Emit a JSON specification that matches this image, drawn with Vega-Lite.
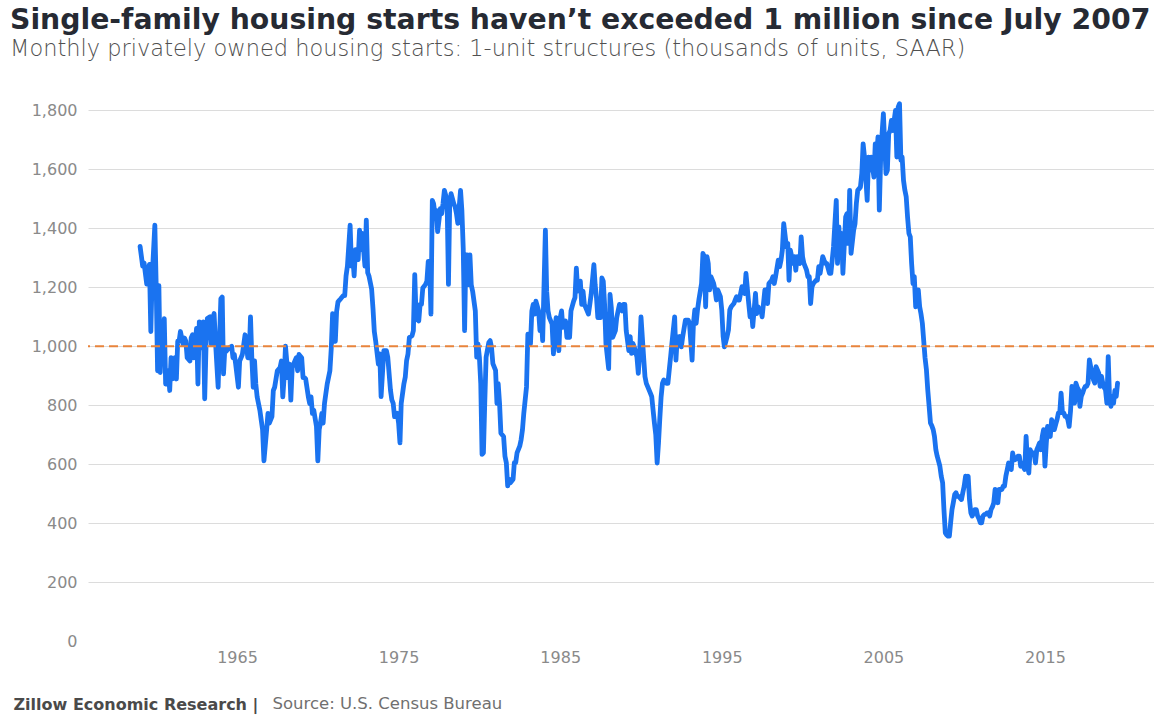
{
  "$schema": "https://vega.github.io/schema/vega-lite/v6.json",
  "autosize": {"type": "none"},
  "width": 1066,
  "height": 560,
  "padding": {"left": 88, "top": 81, "right": 0, "bottom": 75},
  "background": "white",
  "title": {
    "text": "Single-family housing starts haven’t exceeded 1 million since July 2007",
    "subtitle": "Monthly privately owned housing starts: 1-unit structures (thousands of units, SAAR)",
    "anchor": "start",
    "frame": "group",
    "dx": -78,
    "offset": 19,
    "font": "DejaVu Sans",
    "fontSize": 28.3,
    "fontWeight": "bold",
    "color": "#262a33",
    "subtitleFont": "DejaVu Sans",
    "subtitleFontSize": 22.5,
    "subtitleFontWeight": 200,
    "subtitleColor": "#505050",
    "subtitlePadding": 3
  },
  "config": {"view": {"stroke": null}},
  "layer": [
    {
      "data": {
        "format": {"parse": {"date": "utc:'%Y-%m'"}},
        "values": [
{"date":"1959-01","v":1339},{"date":"1959-03","v":1272},{"date":"1959-04","v":1283},{"date":"1959-06","v":1211},{"date":"1959-07","v":1261},{"date":"1959-08","v":1278},{"date":"1959-09","v":1050},{"date":"1959-10","v":1233},{"date":"1959-12","v":1411},
{"date":"1960-01","v":1200},{"date":"1960-02","v":917},{"date":"1960-03","v":1206},{"date":"1960-04","v":911},{"date":"1960-05","v":1050},{"date":"1960-06","v":1006},{"date":"1960-07","v":1094},{"date":"1960-08","v":872},{"date":"1960-10","v":917},{"date":"1960-11","v":850},{"date":"1960-12","v":961},
{"date":"1961-01","v":889},{"date":"1961-03","v":961},{"date":"1961-04","v":889},{"date":"1961-05","v":1017},{"date":"1961-06","v":1017},{"date":"1961-07","v":1050},{"date":"1961-09","v":1006},{"date":"1961-10","v":1028},{"date":"1961-11","v":1017},{"date":"1961-12","v":961},
{"date":"1962-02","v":950},{"date":"1962-03","v":1028},{"date":"1962-04","v":1039},{"date":"1962-05","v":961},{"date":"1962-07","v":1061},{"date":"1962-08","v":872},{"date":"1962-09","v":1083},{"date":"1962-10","v":994},{"date":"1962-12","v":1083},
{"date":"1963-01","v":822},{"date":"1963-02","v":1006},{"date":"1963-03","v":1094},{"date":"1963-05","v":1100},{"date":"1963-06","v":1006},{"date":"1963-07","v":1094},{"date":"1963-08","v":1111},{"date":"1963-09","v":1017},{"date":"1963-11","v":861},{"date":"1963-12","v":1017},
{"date":"1964-01","v":1161},{"date":"1964-02","v":1167},{"date":"1964-03","v":906},{"date":"1964-04","v":994},{"date":"1964-05","v":983},{"date":"1964-06","v":989},{"date":"1964-07","v":994},{"date":"1964-09","v":1000},{"date":"1964-10","v":961},{"date":"1964-11","v":972},{"date":"1964-12","v":939},
{"date":"1965-02","v":861},{"date":"1965-03","v":950},{"date":"1965-04","v":961},{"date":"1965-05","v":972},{"date":"1965-07","v":1039},{"date":"1965-08","v":1006},{"date":"1965-09","v":961},{"date":"1965-10","v":961},{"date":"1965-11","v":1100},{"date":"1965-12","v":961},
{"date":"1966-01","v":861},{"date":"1966-02","v":950},{"date":"1966-03","v":872},{"date":"1966-04","v":828},{"date":"1966-06","v":783},{"date":"1966-07","v":750},{"date":"1966-08","v":717},{"date":"1966-09","v":611},{"date":"1966-11","v":717},{"date":"1966-12","v":772},
{"date":"1967-01","v":739},{"date":"1967-03","v":761},{"date":"1967-04","v":850},{"date":"1967-05","v":861},{"date":"1967-06","v":889},{"date":"1967-07","v":917},{"date":"1967-09","v":928},{"date":"1967-10","v":950},{"date":"1967-11","v":828},{"date":"1967-12","v":894},
{"date":"1968-01","v":1000},{"date":"1968-03","v":894},{"date":"1968-04","v":939},{"date":"1968-05","v":817},{"date":"1968-06","v":928},{"date":"1968-08","v":950},{"date":"1968-09","v":961},{"date":"1968-10","v":917},{"date":"1968-11","v":972},
{"date":"1969-01","v":961},{"date":"1969-02","v":894},{"date":"1969-03","v":894},{"date":"1969-04","v":889},{"date":"1969-06","v":828},{"date":"1969-07","v":806},{"date":"1969-08","v":828},{"date":"1969-09","v":772},{"date":"1969-10","v":783},{"date":"1969-12","v":728},
{"date":"1970-01","v":611},{"date":"1970-02","v":717},{"date":"1970-03","v":739},{"date":"1970-04","v":772},{"date":"1970-05","v":739},{"date":"1970-06","v":806},{"date":"1970-07","v":839},{"date":"1970-08","v":872},{"date":"1970-10","v":917},{"date":"1970-11","v":994},{"date":"1970-12","v":1111},
{"date":"1971-01","v":1094},{"date":"1971-02","v":1017},{"date":"1971-03","v":1117},{"date":"1971-04","v":1150},{"date":"1971-05","v":1156},{"date":"1971-06","v":1161},{"date":"1971-08","v":1172},{"date":"1971-09","v":1172},{"date":"1971-10","v":1239},{"date":"1971-11","v":1272},
{"date":"1972-01","v":1411},{"date":"1972-02","v":1272},{"date":"1972-03","v":1306},{"date":"1972-04","v":1239},{"date":"1972-05","v":1328},{"date":"1972-07","v":1294},{"date":"1972-08","v":1394},{"date":"1972-09","v":1328},{"date":"1972-10","v":1383},{"date":"1972-12","v":1272},
{"date":"1973-01","v":1428},{"date":"1973-02","v":1250},{"date":"1973-03","v":1239},{"date":"1973-05","v":1194},{"date":"1973-06","v":1128},{"date":"1973-07","v":1050},{"date":"1973-08","v":1017},{"date":"1973-10","v":939},{"date":"1973-11","v":974},{"date":"1973-12","v":829},
{"date":"1974-02","v":985},{"date":"1974-04","v":985},{"date":"1974-05","v":963},{"date":"1974-07","v":851},{"date":"1974-08","v":818},{"date":"1974-09","v":806},{"date":"1974-10","v":761},{"date":"1974-12","v":773},
{"date":"1975-01","v":739},{"date":"1975-02","v":672},{"date":"1975-03","v":806},{"date":"1975-04","v":840},{"date":"1975-05","v":873},{"date":"1975-06","v":896},{"date":"1975-07","v":952},{"date":"1975-08","v":974},{"date":"1975-09","v":1030},{"date":"1975-11","v":1036},{"date":"1975-12","v":1053},
{"date":"1976-01","v":1243},{"date":"1976-02","v":1097},{"date":"1976-04","v":1086},{"date":"1976-05","v":1142},{"date":"1976-06","v":1142},{"date":"1976-07","v":1198},{"date":"1976-09","v":1210},{"date":"1976-10","v":1221},{"date":"1976-11","v":1288},{"date":"1976-12","v":1288},
{"date":"1977-01","v":1109},{"date":"1977-02","v":1495},{"date":"1977-03","v":1484},{"date":"1977-04","v":1450},{"date":"1977-05","v":1461},{"date":"1977-06","v":1389},{"date":"1977-08","v":1467},{"date":"1977-09","v":1450},{"date":"1977-10","v":1484},{"date":"1977-11","v":1529},
{"date":"1978-01","v":1495},{"date":"1978-02","v":1210},{"date":"1978-03","v":1484},{"date":"1978-04","v":1518},{"date":"1978-06","v":1484},{"date":"1978-07","v":1473},{"date":"1978-08","v":1450},{"date":"1978-09","v":1417},{"date":"1978-11","v":1529},{"date":"1978-12","v":1462},
{"date":"1979-01","v":1332},{"date":"1979-02","v":1053},{"date":"1979-03","v":1310},{"date":"1979-04","v":1310},{"date":"1979-05","v":1209},{"date":"1979-06","v":1310},{"date":"1979-07","v":1209},{"date":"1979-08","v":1187},{"date":"1979-10","v":1120},{"date":"1979-11","v":963},{"date":"1979-12","v":1008},
{"date":"1980-01","v":963},{"date":"1980-02","v":873},{"date":"1980-03","v":633},{"date":"1980-04","v":638},{"date":"1980-05","v":806},{"date":"1980-06","v":963},{"date":"1980-08","v":1013},{"date":"1980-09","v":1019},{"date":"1980-10","v":996},{"date":"1980-11","v":941},
{"date":"1981-01","v":918},{"date":"1981-02","v":806},{"date":"1981-03","v":873},{"date":"1981-04","v":806},{"date":"1981-05","v":705},{"date":"1981-07","v":694},{"date":"1981-08","v":627},{"date":"1981-09","v":605},{"date":"1981-10","v":526},{"date":"1981-11","v":549},{"date":"1981-12","v":537},
{"date":"1982-02","v":549},{"date":"1982-03","v":605},{"date":"1982-04","v":605},{"date":"1982-05","v":638},{"date":"1982-07","v":661},{"date":"1982-08","v":683},{"date":"1982-09","v":717},{"date":"1982-10","v":773},{"date":"1982-12","v":862},
{"date":"1983-01","v":1041},{"date":"1983-02","v":1041},{"date":"1983-03","v":1008},{"date":"1983-04","v":1120},{"date":"1983-05","v":1142},{"date":"1983-06","v":1109},{"date":"1983-07","v":1153},{"date":"1983-09","v":1120},{"date":"1983-10","v":1053},{"date":"1983-11","v":1097},{"date":"1983-12","v":1019},
{"date":"1984-02","v":1394},{"date":"1984-03","v":1187},{"date":"1984-04","v":1120},{"date":"1984-05","v":1097},{"date":"1984-07","v":1075},{"date":"1984-08","v":974},{"date":"1984-09","v":1053},{"date":"1984-10","v":1097},{"date":"1984-12","v":985},
{"date":"1985-01","v":1097},{"date":"1985-02","v":1120},{"date":"1985-03","v":1064},{"date":"1985-05","v":1086},{"date":"1985-06","v":1030},{"date":"1985-07","v":1064},{"date":"1985-08","v":1030},{"date":"1985-09","v":1120},{"date":"1985-11","v":1153},{"date":"1985-12","v":1165},
{"date":"1986-01","v":1265},{"date":"1986-02","v":1187},{"date":"1986-04","v":1221},{"date":"1986-05","v":1142},{"date":"1986-06","v":1187},{"date":"1986-07","v":1142},{"date":"1986-09","v":1120},{"date":"1986-10","v":1109},{"date":"1986-11","v":1142},{"date":"1986-12","v":1176},
{"date":"1987-02","v":1277},{"date":"1987-03","v":1210},{"date":"1987-04","v":1165},{"date":"1987-05","v":1097},{"date":"1987-07","v":1097},{"date":"1987-08","v":1232},{"date":"1987-09","v":1221},{"date":"1987-10","v":1142},{"date":"1987-11","v":1008},
{"date":"1988-01","v":924},{"date":"1988-02","v":1176},{"date":"1988-03","v":1131},{"date":"1988-04","v":1030},{"date":"1988-06","v":1053},{"date":"1988-07","v":1097},{"date":"1988-08","v":1120},{"date":"1988-09","v":1142},{"date":"1988-11","v":1120},{"date":"1988-12","v":1142},
{"date":"1989-01","v":1142},{"date":"1989-02","v":1053},{"date":"1989-04","v":985},{"date":"1989-05","v":1033},{"date":"1989-06","v":976},{"date":"1989-07","v":1010},{"date":"1989-08","v":998},{"date":"1989-10","v":964},{"date":"1989-11","v":908},{"date":"1989-12","v":976},
{"date":"1990-01","v":1100},{"date":"1990-03","v":964},{"date":"1990-04","v":897},{"date":"1990-05","v":874},{"date":"1990-06","v":863},{"date":"1990-08","v":841},{"date":"1990-09","v":829},{"date":"1990-10","v":784},{"date":"1990-11","v":739},{"date":"1990-12","v":700},
{"date":"1991-01","v":604},{"date":"1991-02","v":672},{"date":"1991-03","v":751},{"date":"1991-04","v":829},{"date":"1991-05","v":874},{"date":"1991-06","v":886},{"date":"1991-08","v":874},{"date":"1991-09","v":874},{"date":"1991-10","v":919},{"date":"1991-11","v":964},{"date":"1991-12","v":1010},
{"date":"1992-02","v":1100},{"date":"1992-03","v":953},{"date":"1992-04","v":1033},{"date":"1992-05","v":1010},{"date":"1992-06","v":1033},{"date":"1992-07","v":998},{"date":"1992-08","v":1033},{"date":"1992-10","v":1089},{"date":"1992-11","v":1089},{"date":"1992-12","v":1089},
{"date":"1993-01","v":1078},{"date":"1993-03","v":953},{"date":"1993-04","v":1078},{"date":"1993-05","v":1123},{"date":"1993-06","v":1078},{"date":"1993-07","v":1123},{"date":"1993-08","v":1157},{"date":"1993-10","v":1213},{"date":"1993-11","v":1315},{"date":"1993-12","v":1304},
{"date":"1994-01","v":1134},{"date":"1994-02","v":1304},{"date":"1994-03","v":1281},{"date":"1994-04","v":1191},{"date":"1994-05","v":1236},{"date":"1994-07","v":1213},{"date":"1994-08","v":1191},{"date":"1994-09","v":1157},{"date":"1994-10","v":1191},{"date":"1994-12","v":1168},
{"date":"1995-01","v":1123},{"date":"1995-02","v":1033},{"date":"1995-03","v":998},{"date":"1995-05","v":1033},{"date":"1995-06","v":1055},{"date":"1995-07","v":1123},{"date":"1995-08","v":1134},{"date":"1995-10","v":1145},{"date":"1995-11","v":1157},{"date":"1995-12","v":1168},
{"date":"1996-01","v":1157},{"date":"1996-02","v":1157},{"date":"1996-04","v":1202},{"date":"1996-05","v":1191},{"date":"1996-06","v":1179},{"date":"1996-07","v":1247},{"date":"1996-09","v":1145},{"date":"1996-10","v":1100},{"date":"1996-11","v":1123},{"date":"1996-12","v":1067},
{"date":"1997-02","v":1179},{"date":"1997-03","v":1111},{"date":"1997-04","v":1134},{"date":"1997-05","v":1123},{"date":"1997-06","v":1123},{"date":"1997-07","v":1100},{"date":"1997-09","v":1191},{"date":"1997-10","v":1191},{"date":"1997-11","v":1145},{"date":"1997-12","v":1213},
{"date":"1998-02","v":1224},{"date":"1998-03","v":1236},{"date":"1998-04","v":1213},{"date":"1998-05","v":1236},{"date":"1998-07","v":1292},{"date":"1998-08","v":1270},{"date":"1998-09","v":1292},{"date":"1998-10","v":1326},{"date":"1998-11","v":1416},
{"date":"1999-01","v":1338},{"date":"1999-02","v":1349},{"date":"1999-03","v":1224},{"date":"1999-04","v":1326},{"date":"1999-06","v":1281},{"date":"1999-07","v":1304},{"date":"1999-08","v":1258},{"date":"1999-09","v":1304},{"date":"1999-11","v":1281},{"date":"1999-12","v":1371},
{"date":"2000-01","v":1304},{"date":"2000-02","v":1281},{"date":"2000-04","v":1258},{"date":"2000-05","v":1236},{"date":"2000-06","v":1236},{"date":"2000-07","v":1145},{"date":"2000-08","v":1202},{"date":"2000-09","v":1213},{"date":"2000-11","v":1224},{"date":"2000-12","v":1224},
{"date":"2001-01","v":1270},{"date":"2001-02","v":1247},{"date":"2001-04","v":1304},{"date":"2001-05","v":1292},{"date":"2001-06","v":1281},{"date":"2001-07","v":1281},{"date":"2001-09","v":1247},{"date":"2001-10","v":1247},{"date":"2001-11","v":1292},{"date":"2001-12","v":1338},
{"date":"2002-02","v":1495},{"date":"2002-03","v":1281},{"date":"2002-04","v":1405},{"date":"2002-05","v":1304},{"date":"2002-06","v":1383},{"date":"2002-07","v":1247},{"date":"2002-09","v":1439},{"date":"2002-10","v":1450},{"date":"2002-11","v":1349},{"date":"2002-12","v":1529},
{"date":"2003-01","v":1315},{"date":"2003-03","v":1394},{"date":"2003-04","v":1416},{"date":"2003-05","v":1484},{"date":"2003-06","v":1529},{"date":"2003-08","v":1540},{"date":"2003-09","v":1586},{"date":"2003-10","v":1687},{"date":"2003-11","v":1642},
{"date":"2004-01","v":1495},{"date":"2004-02","v":1642},{"date":"2004-03","v":1597},{"date":"2004-04","v":1642},{"date":"2004-06","v":1574},{"date":"2004-07","v":1687},{"date":"2004-08","v":1642},{"date":"2004-09","v":1710},{"date":"2004-10","v":1462},{"date":"2004-11","v":1642},{"date":"2004-12","v":1720},
{"date":"2005-01","v":1789},{"date":"2005-03","v":1586},{"date":"2005-04","v":1597},{"date":"2005-05","v":1721},{"date":"2005-06","v":1732},{"date":"2005-07","v":1766},{"date":"2005-08","v":1732},{"date":"2005-10","v":1800},{"date":"2005-11","v":1642},{"date":"2005-12","v":1811},
{"date":"2006-01","v":1823},{"date":"2006-02","v":1631},{"date":"2006-03","v":1642},{"date":"2006-04","v":1563},{"date":"2006-05","v":1530},{"date":"2006-06","v":1507},{"date":"2006-07","v":1439},{"date":"2006-08","v":1383},{"date":"2006-09","v":1371},{"date":"2006-10","v":1281},{"date":"2006-11","v":1213},{"date":"2006-12","v":1236},
{"date":"2007-01","v":1134},{"date":"2007-02","v":1191},{"date":"2007-03","v":1191},{"date":"2007-04","v":1134},{"date":"2007-05","v":1110},{"date":"2007-06","v":1078},{"date":"2007-07","v":1020},{"date":"2007-08","v":960},{"date":"2007-09","v":920},{"date":"2007-10","v":852},{"date":"2007-11","v":796},{"date":"2007-12","v":740},
{"date":"2008-01","v":730},{"date":"2008-02","v":717},{"date":"2008-03","v":694},{"date":"2008-04","v":649},{"date":"2008-05","v":627},{"date":"2008-06","v":610},{"date":"2008-07","v":593},{"date":"2008-08","v":559},{"date":"2008-09","v":537},{"date":"2008-10","v":446},{"date":"2008-11","v":367},{"date":"2008-12","v":360},
{"date":"2009-01","v":356},{"date":"2009-02","v":356},{"date":"2009-03","v":401},{"date":"2009-04","v":446},{"date":"2009-05","v":470},{"date":"2009-06","v":497},{"date":"2009-07","v":503},{"date":"2009-08","v":491},{"date":"2009-09","v":491},{"date":"2009-10","v":485},{"date":"2009-11","v":480},{"date":"2009-12","v":503},
{"date":"2010-01","v":525},{"date":"2010-02","v":559},{"date":"2010-03","v":540},{"date":"2010-04","v":559},{"date":"2010-05","v":480},{"date":"2010-06","v":435},{"date":"2010-07","v":424},{"date":"2010-08","v":435},{"date":"2010-09","v":446},{"date":"2010-10","v":446},{"date":"2010-11","v":424},{"date":"2010-12","v":415},
{"date":"2011-01","v":401},{"date":"2011-02","v":401},{"date":"2011-03","v":424},{"date":"2011-04","v":429},{"date":"2011-05","v":430},{"date":"2011-06","v":435},{"date":"2011-07","v":435},{"date":"2011-08","v":424},{"date":"2011-09","v":446},{"date":"2011-10","v":455},{"date":"2011-11","v":469},{"date":"2011-12","v":514},
{"date":"2012-01","v":491},{"date":"2012-02","v":469},{"date":"2012-03","v":514},{"date":"2012-04","v":514},{"date":"2012-05","v":514},{"date":"2012-06","v":525},{"date":"2012-07","v":525},{"date":"2012-08","v":560},{"date":"2012-09","v":582},{"date":"2012-10","v":604},{"date":"2012-11","v":593},{"date":"2012-12","v":582},
{"date":"2013-01","v":638},{"date":"2013-02","v":615},{"date":"2013-03","v":615},{"date":"2013-04","v":620},{"date":"2013-05","v":627},{"date":"2013-06","v":627},{"date":"2013-07","v":593},{"date":"2013-08","v":604},{"date":"2013-09","v":590},{"date":"2013-10","v":582},{"date":"2013-11","v":694},{"date":"2013-12","v":604},
{"date":"2014-01","v":570},{"date":"2014-02","v":649},{"date":"2014-03","v":638},{"date":"2014-04","v":638},{"date":"2014-05","v":638},{"date":"2014-06","v":604},{"date":"2014-07","v":649},{"date":"2014-08","v":660},{"date":"2014-09","v":672},{"date":"2014-10","v":649},{"date":"2014-11","v":694},{"date":"2014-12","v":717},
{"date":"2015-01","v":593},{"date":"2015-02","v":672},{"date":"2015-03","v":728},{"date":"2015-04","v":710},{"date":"2015-05","v":694},{"date":"2015-06","v":751},{"date":"2015-07","v":740},{"date":"2015-08","v":717},{"date":"2015-09","v":735},{"date":"2015-10","v":751},{"date":"2015-11","v":774},{"date":"2015-12","v":774},
{"date":"2016-01","v":841},{"date":"2016-02","v":774},{"date":"2016-03","v":774},{"date":"2016-04","v":762},{"date":"2016-05","v":762},{"date":"2016-06","v":751},{"date":"2016-07","v":728},{"date":"2016-08","v":780},{"date":"2016-09","v":864},{"date":"2016-10","v":830},{"date":"2016-11","v":807},{"date":"2016-12","v":875},
{"date":"2017-01","v":860},{"date":"2017-02","v":852},{"date":"2017-03","v":796},{"date":"2017-04","v":830},{"date":"2017-05","v":841},{"date":"2017-06","v":855},{"date":"2017-07","v":864},{"date":"2017-08","v":864},{"date":"2017-09","v":875},{"date":"2017-10","v":954},{"date":"2017-11","v":930},{"date":"2017-12","v":909},
{"date":"2018-01","v":886},{"date":"2018-02","v":875},{"date":"2018-03","v":931},{"date":"2018-04","v":920},{"date":"2018-05","v":909},{"date":"2018-06","v":864},{"date":"2018-07","v":898},{"date":"2018-08","v":875},{"date":"2018-09","v":860},{"date":"2018-10","v":852},{"date":"2018-11","v":807},{"date":"2018-12","v":965},
{"date":"2019-01","v":819},{"date":"2019-02","v":796},{"date":"2019-03","v":830},{"date":"2019-04","v":807},{"date":"2019-05","v":850},{"date":"2019-06","v":830},{"date":"2019-07","v":875}
        ]
      },
      "mark": {"type": "line", "color": "#1a73f0", "strokeWidth": 4.8, "strokeJoin": "round", "strokeCap": "round"},
      "encoding": {
        "x": {
          "field": "date",
          "type": "temporal",
          "scale": {"type": "utc", "domain": [{"year": 1955, "month": 10, "date": 12, "utc": true}, {"year": 2021, "month": 10, "date": 1, "utc": true}]},
          "axis": {
            "values": [{"year": 1965, "utc": true}, {"year": 1975, "utc": true}, {"year": 1985, "utc": true}, {"year": 1995, "utc": true}, {"year": 2005, "utc": true}, {"year": 2015, "utc": true}],
            "labelExpr": "utcFormat(datum.value, '%Y')",
            "grid": false,
            "domain": false,
            "ticks": false,
            "labelFont": "DejaVu Sans",
            "labelFontSize": 16,
            "labelColor": "#8a8a8a",
            "labelPadding": 8,
            "title": "Zillow Economic Research |",
            "titleX": -75,
            "titleY": 68,
            "titleAlign": "left",
            "titleBaseline": "alphabetic",
            "titleFont": "DejaVu Sans",
            "titleFontSize": 16,
            "titleFontWeight": "bold",
            "titleColor": "#4a4a4a"
          }
        },
        "y": {
          "field": "v",
          "type": "quantitative",
          "scale": {"domain": [0, 1900], "nice": false},
          "axis": {
            "values": [0, 200, 400, 600, 800, 1000, 1200, 1400, 1600, 1800],
            "labelExpr": "format(datum.value, ',.0f')",
            "grid": true,
            "gridColor": "#dcdcdc",
            "gridWidth": 1,
            "gridOpacity": {"condition": {"test": "datum.value === 0", "value": 0}, "value": 1},
            "domain": false,
            "ticks": false,
            "labelFont": "DejaVu Sans",
            "labelFontSize": 16,
            "labelColor": "#8a8a8a",
            "labelPadding": 11,
            "title": "Source: U.S. Census Bureau",
            "titleAngle": 0,
            "titleX": 184,
            "titleY": 627,
            "titleAlign": "left",
            "titleBaseline": "alphabetic",
            "titleFont": "DejaVu Sans",
            "titleFontSize": 16.5,
            "titleFontWeight": "normal",
            "titleColor": "#707070"
          }
        }
      }
    },
    {
      "data": {"values": [{"threshold": 1000}]},
      "mark": {"type": "rule", "color": "#e8843c", "strokeWidth": 2, "strokeDash": [9, 5]},
      "encoding": {
        "y": {"field": "threshold", "type": "quantitative"}
      }
    }
  ]
}
